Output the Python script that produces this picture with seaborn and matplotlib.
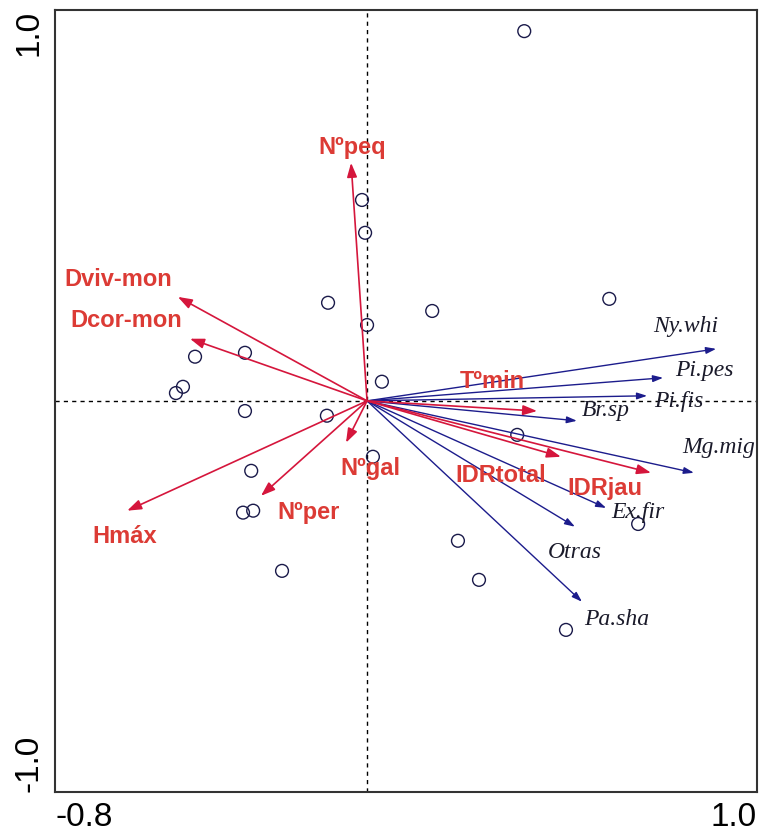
import numpy as np
import pandas as pd
import matplotlib
matplotlib.use('Agg')
import matplotlib.pyplot as plt
import seaborn as sns

# sample scores (open circles)
site_x = [0.403, -0.013, -0.005, -0.100, 0.167, 0.621, 0.000, -0.313, -0.441, -0.472,
          -0.490, 0.038, -0.313, -0.103, 0.385, 0.015, -0.297, -0.292, -0.318, 0.695,
          0.233, 0.287, -0.218, 0.510]
site_y = [0.946, 0.514, 0.430, 0.251, 0.230, 0.261, 0.194, 0.123, 0.113, 0.036,
          0.020, 0.049, -0.026, -0.038, -0.087, -0.143, -0.179, -0.281, -0.286, -0.315,
          -0.358, -0.458, -0.435, -0.586]

# environmental variables (red arrows)
env_names = ['Nºpeq', 'Dviv-mon', 'Dcor-mon', 'Hmáx', 'Nºper', 'Nºgal', 'Tºmin', 'IDRtotal', 'IDRjau']
env_x = [-0.041, -0.485, -0.454, -0.615, -0.272, -0.054, 0.436, 0.497, 0.728]
env_y = [0.609, 0.266, 0.159, -0.281, -0.243, -0.107, -0.026, -0.143, -0.184]

# species (blue arrows)
spp_names = ['Ny.whi', 'Pi.pes', 'Pi.fis', 'Br.sp', 'Mg.mig', 'Ex.fir', 'Otras', 'Pa.sha']
spp_x = [0.895, 0.759, 0.718, 0.538, 0.838, 0.613, 0.533, 0.551]
spp_y = [0.133, 0.059, 0.013, -0.051, -0.184, -0.274, -0.322, -0.514]

# label offsets from arrow tips, in pixels
env_off = [(1, 15), (-60, 17), (-64, 18), (-2, -26), (48, -17), (24, -26), (-45, 30), (-60, -19), (-46, -16)]
spp_off = [(-30, 22), (41, 7), (32, -6), (29, 10), (25, 25), (32, -5), (0, -26), (35, -18)]

RED = '#d5163c'
RED_TXT = '#dc3b35'
BLUE = '#1c1c8c'

sns.set_style('white')
plt.rcParams['font.family'] = ['Liberation Sans', 'DejaVu Sans']

fig = plt.figure(figsize=(7.59, 8.36), dpi=100)
ax = fig.add_axes([0.0725, 0.053, 0.925, 0.935])

ax.axhline(0, color='black', lw=1, ls=(0, (3, 3)), zorder=1)
ax.axvline(0, color='black', lw=1, ls=(0, (3, 3)), zorder=1)

sites = pd.DataFrame({'x': site_x, 'y': site_y})
sns.scatterplot(data=sites, x='x', y='y', ax=ax, s=85, marker='o',
                facecolor='none', edgecolor='#1a1a4a', linewidth=1.0, zorder=3)

for name, x, y, off in zip(spp_names, spp_x, spp_y, spp_off):
    ax.annotate('', xy=(x, y), xytext=(0, 0),
                arrowprops=dict(arrowstyle='-|>,head_length=0.6,head_width=0.2',
                                color=BLUE, lw=1.0, shrinkA=0, shrinkB=0,
                                mutation_scale=10), zorder=4)
    ax.annotate(name, xy=(x, y), xytext=off, textcoords='offset pixels',
                ha='center', va='center', fontsize=17, style='italic',
                family='Liberation Serif', color='#1a1a2a', zorder=6)

for name, x, y, off in zip(env_names, env_x, env_y, env_off):
    ax.annotate('', xy=(x, y), xytext=(0, 0),
                arrowprops=dict(arrowstyle='-|>,head_length=0.85,head_width=0.3',
                                color=RED, lw=1.2, shrinkA=0, shrinkB=0,
                                mutation_scale=10), zorder=5)
    ax.annotate(name, xy=(x, y), xytext=off, textcoords='offset pixels',
                ha='center', va='center', fontsize=17, fontweight='bold',
                color=RED_TXT, zorder=6)

ax.set_xlim(-0.8, 1.0)
ax.set_ylim(-1.0, 1.0)
xt = np.round(np.arange(-0.8, 1.01, 0.2), 1)
ax.set_xticks(xt)
ax.set_xticklabels(['-0.8'] + [''] * (len(xt) - 2) + ['1.0'])
ax.set_yticks([-1.0, -0.5, 0, 0.5, 1.0])
ax.set_yticklabels(['-1.0', '', '', '', '1.0'], rotation=90)
ax.tick_params(direction='inout', length=7, width=1, colors='black', labelsize=24, pad=4)
xl = ax.get_xticklabels()
xl[0].set_ha('left')
xl[-1].set_ha('right')
yl = ax.get_yticklabels()
yl[0].set_va('bottom')
yl[-1].set_va('top')
ax.set_xlabel('')
ax.set_ylabel('')
for sp in ax.spines.values():
    sp.set_color('#333333')
    sp.set_linewidth(1.5)
    sp.set_visible(True)

fig.savefig('out.png', dpi=100)
